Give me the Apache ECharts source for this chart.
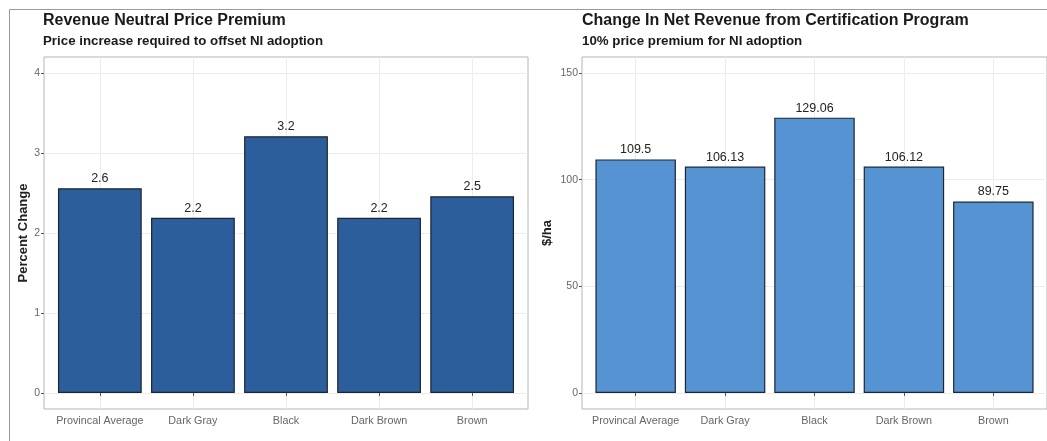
<!DOCTYPE html>
<html><head><meta charset="utf-8">
<script src="https://cdn.jsdelivr.net/npm/echarts@6/dist/echarts.min.js"></script>
<style>html,body{margin:0;padding:0;background:#fff}#c{width:1047px;height:441px}</style>
</head><body><div id="c"></div>
<script>
const categories = ['Provincal Average', 'Dark Gray', 'Black', 'Dark Brown', 'Brown'];
const premiumValues = [2.56, 2.19, 3.21, 2.19, 2.46];
const revenueValues = [109.5, 106.13, 129.06, 106.12, 89.75];
const premiumTicks = [0, 1, 2, 3, 4];
const revenueTicks = [0, 50, 100, 150];
const catPositions = categories.map((c, i) => i + 1);

const FONT = 'Liberation Sans, Arial, sans-serif';
const chart = echarts.init(document.getElementById('c'));

function xAxisFor(gi) {
  return {
    type: 'value', gridIndex: gi, min: 0.4, max: 5.6,
    axisLine: { show: false },
    axisTick: { show: true, length: 3, customValues: catPositions, lineStyle: { color: '#555' } },
    axisLabel: { customValues: catPositions, fontSize: 10.8, color: '#666', fontFamily: FONT, margin: 7,
      formatter: v => categories[Math.round(v) - 1] || '' },
    splitLine: { show: true, lineStyle: { color: '#ececec', width: 1 } }
  };
}
function yAxisFor(gi, min, max, ticks, name, gap) {
  return {
    type: 'value', gridIndex: gi, min: min, max: max,
    name: name, nameLocation: 'middle', nameGap: gap,
    nameTextStyle: { fontSize: 13, fontWeight: 'bold', color: '#222', fontFamily: FONT },
    axisLine: { show: false },
    axisTick: { show: true, length: 3, customValues: ticks, lineStyle: { color: '#555' } },
    axisLabel: { customValues: ticks, fontSize: 10.5, color: '#666', fontFamily: FONT, margin: 4 },
    splitLine: { show: true, lineStyle: { color: '#ececec', width: 1 } }
  };
}

chart.setOption({
  animation: false,
  backgroundColor: '#fff',
  graphic: [{
    type: 'rect', shape: { x: 9.5, y: 9.5, width: 1100, height: 500 },
    style: { fill: null, stroke: '#9a9a9a', lineWidth: 1 }, z: -10, silent: true
  }],
  title: [
    { text: 'Revenue Neutral Price Premium', left: 43, top: 13, padding: 0,
      textStyle: { fontSize: 16, fontWeight: 'bold', color: '#1a1a1a', fontFamily: FONT } },
    { text: 'Price increase required to offset NI adoption', left: 43, top: 35, padding: 0,
      textStyle: { fontSize: 13.3, fontWeight: 'bold', color: '#1a1a1a', fontFamily: FONT } },
    { text: 'Change In Net Revenue from Certification Program', left: 582, top: 13, padding: 0,
      textStyle: { fontSize: 16, fontWeight: 'bold', color: '#1a1a1a', fontFamily: FONT } },
    { text: '10% price premium for NI adoption', left: 582, top: 35, padding: 0,
      textStyle: { fontSize: 13.3, fontWeight: 'bold', color: '#1a1a1a', fontFamily: FONT } }
  ],
  grid: [
    { left: 44, top: 57, width: 484, height: 352, show: true, borderColor: '#b5b5b5', borderWidth: 1, backgroundColor: '#fff' },
    { left: 582, top: 57, width: 467, height: 352, show: true, borderColor: '#b5b5b5', borderWidth: 1, backgroundColor: '#fff' }
  ],
  xAxis: [xAxisFor(0), xAxisFor(1)],
  yAxis: [
    yAxisFor(0, -0.2, 4.2, premiumTicks, 'Percent Change', 14),
    yAxisFor(1, -7.5, 157.5, revenueTicks, '$/ha', 28)
  ],
  series: [
    { type: 'bar', xAxisIndex: 0, yAxisIndex: 0, barWidth: '90%',
      data: premiumValues.map((v, i) => [catPositions[i], v]),
      itemStyle: { color: '#2b5e9b', borderColor: '#1c2633', borderWidth: 1.2 },
      label: { show: true, position: 'top', distance: 3, fontSize: 12.5, color: '#222', fontFamily: FONT,
        formatter: p => p.value[1].toFixed(1) } },
    { type: 'bar', xAxisIndex: 1, yAxisIndex: 1, barWidth: '90%',
      data: revenueValues.map((v, i) => [catPositions[i], v]),
      itemStyle: { color: '#5593d2', borderColor: '#1c2633', borderWidth: 1.2 },
      label: { show: true, position: 'top', distance: 3, fontSize: 12.5, color: '#222', fontFamily: FONT,
        formatter: p => String(p.value[1]) } }
  ]
});
</script>
</body></html>
